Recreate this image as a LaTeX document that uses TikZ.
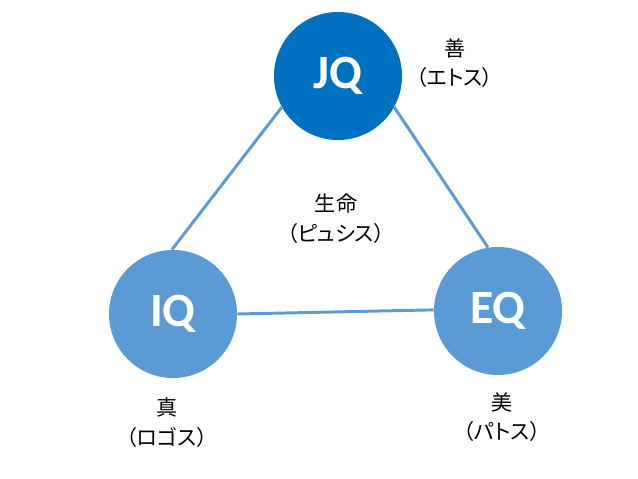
\documentclass[tikz,border=0pt]{standalone}
\usepackage{fontspec}
\setmainfont{Carlito}
\newfontfamily\jpfont[RawFeature=+palt]{Noto Sans CJK JP}
\definecolor{darkblue}{HTML}{0070C0}
\definecolor{lightblue}{HTML}{5B9BD5}
\tikzset{
  qcircle/.style={circle, minimum size=3.2cm, inner sep=0pt,
    text=white, font=\fontsize{34}{34}\selectfont\bfseries},
  jplabel/.style={align=center, inner sep=0pt,
    font=\jpfont\fontsize{15}{21}\selectfont},
  link/.style={draw=lightblue, line width=2.1pt}
}
\begin{document}
\begin{tikzpicture}[x=0.025cm, y=0.025cm] % 1 单位 = 原图 1 像素

    \useasboundingbox (0,0) rectangle (638,479);

    % 1. 三个圆:上方 JQ 深蓝,左下 IQ 与右下 EQ 浅蓝
    \node[qcircle, fill=darkblue]  (jq) at (338,403) {JQ};
    \node[qcircle, fill=lightblue] (iq) at (173,165) {IQ};
    \node[qcircle, fill=lightblue] (eq) at (498,168) {EQ};

    % 2. 圆与圆之间的连线
    \draw[link] (jq.209) -- (iq.91);
    \draw[link] (jq.331) -- (eq.99);
    \draw[link] (iq.0) -- (eq.179);

    % 3. 文字标注
    \node[jplabel] (zen)  at (455,416)   {善\\（エトス）};
    \node[jplabel] (life) at (336,260.5) {生命\\（ピュシス）};
    \node[jplabel] (shin) at (167,56.5)  {真\\（ロゴス）};
    \node[jplabel] (bi)   at (502,62)    {美\\（パトス）};

  \end{tikzpicture}
\end{document}
